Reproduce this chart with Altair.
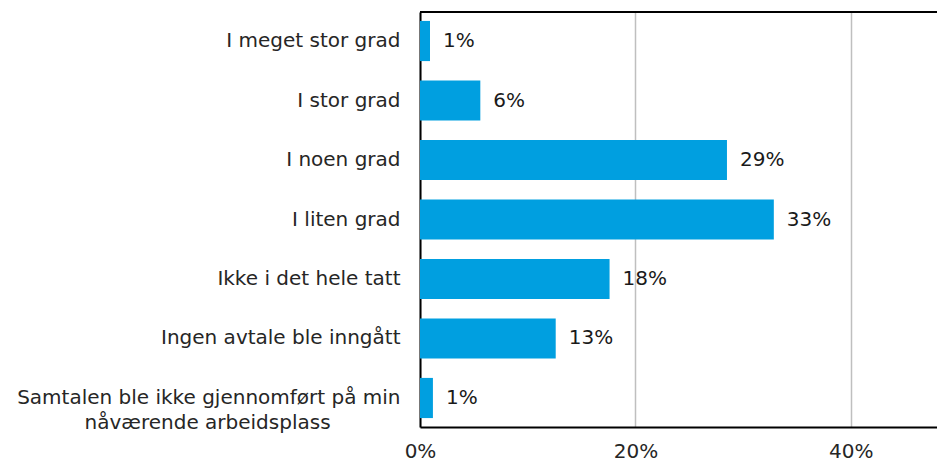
import altair as alt
import pandas as pd

PAD = "\u00a0" * 11 + "\u200b"

categories = [
    "I meget stor grad",
    "I stor grad",
    "I noen grad",
    "I liten grad",
    "Ikke i det hele tatt",
    "Ingen avtale ble inngått",
    "Samtalen ble ikke gjennomført på min|nåværende arbeidsplass" + PAD,
]
values = [0.0093, 0.056, 0.285, 0.3285, 0.176, 0.126, 0.012]
labels = ["1%", "6%", "29%", "33%", "18%", "13%", "1%"]

df = pd.DataFrame({"category": categories, "value": values, "label": labels})

FONT = "DejaVu Sans"
W, H = 517, 415

y_enc = alt.Y(
    "category:N",
    sort=categories,
    title=None,
    scale=alt.Scale(paddingInner=0.325, paddingOuter=0.15),
    axis=alt.Axis(
        labelExpr="split(datum.label, '|')",
        labelFont=FONT,
        labelFontSize=20,
        labelColor="#262626",
        labelPadding=20,
        labelLimit=0,
        labelLineHeight=25,
        ticks=False,
        domain=True,
        domainColor="black",
        domainWidth=2,
        grid=False,
    ),
)

x_enc = alt.X(
    "value:Q",
    title=None,
    scale=alt.Scale(domain=[0, 0.48], nice=False, zero=True),
    axis=alt.Axis(
        values=[0, 0.2, 0.4],
        format=".0%",
        labelFont=FONT,
        labelFontSize=20,
        labelColor="#262626",
        labelPadding=14,
        labelFlush=False,
        ticks=False,
        domain=True,
        domainColor="black",
        domainWidth=2,
        grid=True,
        gridColor="#BFBFBF",
        gridWidth=1.5,
    ),
)

bars = alt.Chart(df).mark_bar(color="#009FE0").encode(x=x_enc, y=y_enc)

texts = alt.Chart(df).mark_text(
    align="left", baseline="middle", dx=13, fontSize=20, font=FONT, color="#1a1a1a"
).encode(x="value:Q", y=alt.Y("category:N", sort=categories), text="label:N")

top_line = alt.Chart(df).mark_rule(color="black", strokeWidth=2).encode(
    x=alt.value(0), x2=alt.value(W), y=alt.value(0)
)

chart = (
    alt.layer(bars, texts, top_line)
    .properties(
        width=W,
        height=H,
        autosize=alt.AutoSizeParams(type="none"),
        padding={"left": 412, "top": 4, "right": 0, "bottom": 35},
    )
    .configure_view(stroke=None)
)

chart.save("out.html", embed_options={"renderer": "svg", "actions": False})
